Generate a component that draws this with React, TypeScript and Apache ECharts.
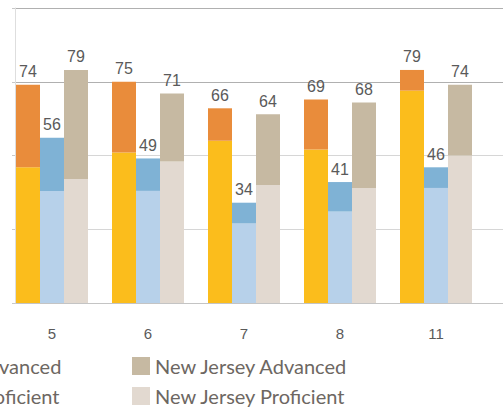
import React, { useEffect, useRef } from "react";
import * as echarts from "echarts";

const grades = ["5", "6", "7", "8", "11"];
const districtProficient = [46, 51, 55, 52, 72];
const districtAdvanced = [28, 24, 11, 17, 7];
const dfgProficient = [38, 38, 27, 31, 39];
const dfgAdvanced = [18, 11, 7, 10, 7];
const njProficient = [42, 48, 40, 39, 50];
const njAdvanced = [37, 23, 24, 29, 24];
const yTicks = { min: 0, max: 100, interval: 25 };

const SHIFT = 300;
const W = 503 + SHIFT;
const H = 408;

const numFont = "'Liberation Sans', Arial, sans-serif";
const legendFont = "Lato, 'Open Sans', sans-serif";

export default function App() {
  const ref = useRef<HTMLDivElement>(null);
  useEffect(() => {
    if (!ref.current) return;
    const chart = echarts.init(ref.current, undefined, { renderer: "svg" });

    const pair = (
      stack: string,
      profName: string,
      advName: string,
      prof: number[],
      adv: number[],
      profColor: string,
      advColor: string
    ) => [
      {
        name: profName,
        type: "bar",
        stack,
        xAxisIndex: 1,
        yAxisIndex: 1,
        data: prof,
        itemStyle: { color: profColor },
        barGap: "0%",
        barCategoryGap: "25%",
      },
      {
        name: advName,
        type: "bar",
        stack,
        xAxisIndex: 1,
        yAxisIndex: 1,
        data: adv,
        itemStyle: { color: advColor },
        barGap: "0%",
        barCategoryGap: "25%",
        label: {
          show: true,
          position: "top",
          distance: 5,
          fontFamily: numFont,
          fontSize: 16,
          color: "#5a5a5a",
          formatter: (p: any) => String(prof[p.dataIndex] + adv[p.dataIndex]),
        },
      },
    ];

    const legendCommon = {
      orient: "vertical",
      padding: 0,
      height: 80,
      itemWidth: 18,
      itemHeight: 18,
      itemGap: 10,
      icon: "rect",
      textStyle: {
        fontFamily: legendFont,
        fontSize: 20,
        lineHeight: 18,
        color: "#6d6762",
      },
    };

    chart.setOption({
      animation: false,
      backgroundColor: "#ffffff",
      legend: [
        {
          ...legendCommon,
          left: 0,
          top: 356,
          data: ["District Advanced", "District Proficient"],
        },
        {
          ...legendCommon,
          right: W - (62 + SHIFT),
          top: 356,
          data: ["DFG Advanced", "DFG Proficient"],
        },
        {
          ...legendCommon,
          left: 132 + SHIFT,
          top: 356,
          data: ["New Jersey Advanced", "New Jersey Proficient"],
        },
      ],
      grid: [
        { left: 15 + SHIFT, right: 0, top: 8, bottom: H - 303 },
        { left: 4 + SHIFT, right: 19, top: 8, bottom: H - 303 },
      ],
      xAxis: [
        { type: "value", gridIndex: 0, show: false, min: 0, max: 1 },
        {
          type: "category",
          gridIndex: 1,
          data: grades,
          axisLine: { show: false },
          axisTick: { show: false },
          axisLabel: {
            margin: 23,
            fontFamily: numFont,
            fontSize: 15,
            color: "#5a5a5a",
          },
        },
      ],
      yAxis: [
        {
          type: "value",
          gridIndex: 0,
          ...yTicks,
          axisLabel: { show: false },
          axisLine: { show: true, lineStyle: { color: "#dedede", width: 1 } },
          axisTick: { show: true, length: 3, lineStyle: { color: "#c8c8c8" } },
          splitLine: {
            show: true,
            lineStyle: {
              color: ["#c4c4c4", "#d6d6d6", "#d6d6d6", "#b0b0b0", "#b0b0b0"],
              width: 1,
            },
          },
        },
        { type: "value", gridIndex: 1, ...yTicks, show: false },
      ],
      series: [
        ...pair("district", "District Proficient", "District Advanced", districtProficient, districtAdvanced, "#FBBD1C", "#E98C3B"),
        ...pair("dfg", "DFG Proficient", "DFG Advanced", dfgProficient, dfgAdvanced, "#B7D1EA", "#7FB2D5"),
        ...pair("nj", "New Jersey Proficient", "New Jersey Advanced", njProficient, njAdvanced, "#E2D9D0", "#C6B9A2"),
      ],
    });
    return () => chart.dispose();
  }, []);

  return (
    <div
      ref={ref}
      style={{ position: "fixed", left: -SHIFT, top: 0, width: W, height: H }}
    />
  );
}
